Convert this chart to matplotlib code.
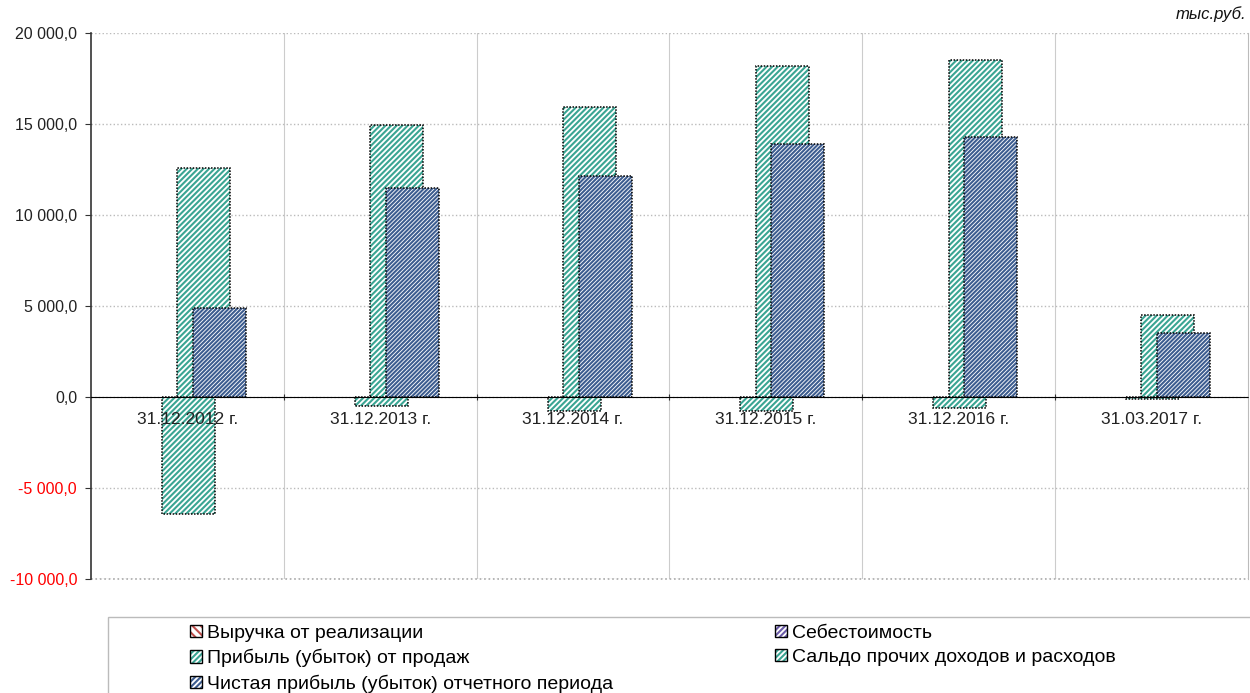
import numpy as np
import matplotlib
matplotlib.use("Agg")
import matplotlib.pyplot as plt
from matplotlib.patches import Patch, Rectangle
from matplotlib.ticker import FixedLocator

plt.rcParams["font.family"] = ["Liberation Sans", "DejaVu Sans"]
plt.rcParams["hatch.linewidth"] = 1.5

# data (thousand rub.)
periods = ["31.12.2012 г.", "31.12.2013 г.", "31.12.2014 г.",
           "31.12.2015 г.", "31.12.2016 г.", "31.03.2017 г."]
sales_profit = [12600, 14940, 15950, 18180, 18500, 4520]
other_balance = [-6450, -500, -750, -770, -620, -120]
net_profit = [4900, 11500, 12150, 13900, 14300, 3520]

legend_labels = ["Выручка от реализации", "Себестоимость",
                 "Прибыль (убыток) от продаж", "Сальдо прочих доходов и расходов",
                 "Чистая прибыль (убыток) отчетного периода"]

teal = "#3aa593"
navy = "#3d5d90"
width = 0.275

fig = plt.figure(figsize=(12.5, 6.93), dpi=100)
ax = fig.add_axes([91 / 1250, 1 - 579 / 693, (1248 - 91) / 1250, (579 - 33) / 693])

x = np.arange(len(periods))

def hatched_bars(xpos, vals, color, hatch, z):
    ax.bar(xpos, vals, width, color="white", edgecolor=color, hatch=hatch,
           linewidth=0, zorder=z)
    ax.bar(xpos, vals, width, fill=False, edgecolor="black",
           linestyle=(0, (1, 1)), linewidth=1.1, zorder=z + 0.1)

hatched_bars(x + 0.005, other_balance, teal, "//////", 3)
hatched_bars(x + 0.085, sales_profit, teal, "//////", 4)
hatched_bars(x + 0.166, net_profit, navy, "////////", 5)

ax.set_xlim(-0.5, len(periods) - 0.5)
ax.set_ylim(-10000, 20000)

yt = np.arange(-10000, 20001, 5000)
ax.yaxis.set_major_locator(FixedLocator(yt))
labels = ["{:,.1f}".format(v).replace(",", " ").replace(".", ",") for v in yt]
ax.set_yticklabels(labels, fontsize=11.5, color="#222222")
for lab, v in zip(ax.get_yticklabels(), yt):
    if v < 0:
        lab.set_color("red")
ax.tick_params(axis="y", length=4, pad=6, color="#333333")

ax.spines["bottom"].set_position(("data", 0))
ax.spines["bottom"].set_color("black")
ax.spines["bottom"].set_linestyle((0, (1, 1)))
ax.spines["bottom"].set_zorder(6)
ax.spines["left"].set_color("#333333")
ax.spines["left"].set_linewidth(1.2)
ax.spines["right"].set_color("#bbbbbb")
ax.spines["top"].set_visible(False)

ax.xaxis.set_major_locator(FixedLocator(np.arange(0.5, len(periods) - 0.5, 1)))
ax.xaxis.set_major_formatter(plt.NullFormatter())
ax.tick_params(axis="x", which="major", length=4, direction="inout", color="#333333")
for xi, lab in zip(x, periods):
    ax.text(xi, -800, lab, ha="center", va="top", fontsize=12.5, color="#222222",
            zorder=10)

ax.grid(True, axis="y", color="#bbbbbb", linestyle=":", linewidth=1, zorder=0)
ax.grid(True, axis="x", which="major", color="#cccccc", linestyle="-", linewidth=0.8, zorder=0)
ax.axhline(-10000, color="#aaaaaa", linestyle=":", linewidth=1.2, clip_on=False, zorder=1)
ax.set_axisbelow(True)

fig.text(1246 / 1250, 1 - 14 / 693, "тыс.руб.", ha="right", va="center",
         fontsize=12, style="italic", color="#111111")

# legend
def handle(color, hatch):
    return (Patch(facecolor="white", edgecolor=color, hatch=hatch, linewidth=0),
            Patch(fill=False, edgecolor="black", linewidth=1))

h_rev = handle("#c0504d", "\\\\\\\\")
h_cost = handle("#6b5ba8", "//////")
h_sales = handle(teal, "//////")
h_other = handle(teal, "//////")
h_net = handle(navy, "//////")

leg_kw = dict(frameon=False, loc="upper left", fontsize=14, handlelength=0.6,
              handleheight=0.6, handletextpad=0.25, labelspacing=0.36,
              borderpad=0, borderaxespad=0)
fig.legend([h_rev, h_sales, h_net],
           [legend_labels[0], legend_labels[2], legend_labels[4]],
           bbox_to_anchor=(190 / 1250, 1 - 625 / 693), **leg_kw)
fig.legend([h_cost, h_other], [legend_labels[1], legend_labels[3]],
           bbox_to_anchor=(775 / 1250, 1 - 625 / 693), **leg_kw)

fig.patches.append(Rectangle((108 / 1250, -0.02), 1.0, 0.02 + (693 - 617) / 693,
                             transform=fig.transFigure, fill=False,
                             edgecolor="#bbbbbb", linewidth=1))

fig.savefig("out.png", dpi=100)
